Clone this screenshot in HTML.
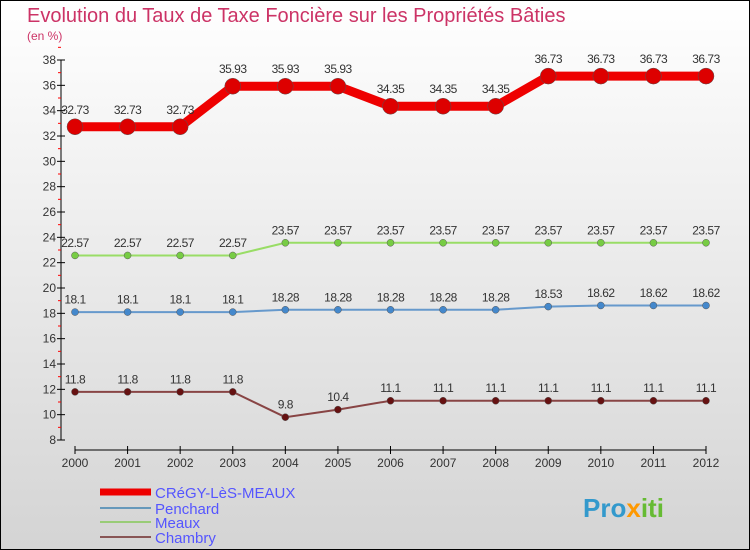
<!DOCTYPE html>
<html><head><meta charset="utf-8"><style>
html,body{margin:0;padding:0}
body{width:750px;height:550px;overflow:hidden;font-family:"Liberation Sans",sans-serif}
svg{display:block}
</style></head><body>
<svg width="750" height="550" xmlns="http://www.w3.org/2000/svg">
<defs><linearGradient id="bg" x1="0" y1="0" x2="0" y2="1"><stop offset="0" stop-color="#ffffff"/><stop offset="1" stop-color="#d4d4d4"/></linearGradient></defs>
<rect x="0.5" y="0.5" width="749" height="549" fill="url(#bg)" stroke="#000"/>
<text x="27" y="22" font-size="20" fill="#cc3366">Evolution du Taux de Taxe Foncière sur les Propriétés Bâties</text>
<text x="27" y="40" font-size="12" fill="#cc3366">(en %)</text>
<g id="axes"></g>
<g id="series"></g>
<g id="legend"></g>
<g font-size="26" font-weight="bold">
<text x="583" y="517" fill="#3399cc">Pro<tspan fill="#ff9900">x</tspan><tspan fill="#66bb33">iti</tspan></text>
</g>
</svg>
<script>
const years=[2000,2001,2002,2003,2004,2005,2006,2007,2008,2009,2010,2011,2012];
const yTicks=[8,10,12,14,16,18,20,22,24,26,28,30,32,34,36,38];
const cregy=[32.73,32.73,32.73,35.93,35.93,35.93,34.35,34.35,34.35,36.73,36.73,36.73,36.73];
const penchard=[18.1,18.1,18.1,18.1,18.28,18.28,18.28,18.28,18.28,18.53,18.62,18.62,18.62];
const meaux=[22.57,22.57,22.57,22.57,23.57,23.57,23.57,23.57,23.57,23.57,23.57,23.57,23.57];
const chambry=[11.8,11.8,11.8,11.8,9.8,10.4,11.1,11.1,11.1,11.1,11.1,11.1,11.1];
const names=["CRéGY-LèS-MEAUX","Penchard","Meaux","Chambry"];
const NS="http://www.w3.org/2000/svg";
function X(i){return 75+i*(706-75)/(years.length-1);}
function Y(v){return 440-(v-8)*(380/30);}
function mk(t,a,p){const e=document.createElementNS(NS,t);for(const k in a)e.setAttribute(k,a[k]);p.appendChild(e);return e;}
const ax=document.getElementById('axes');
const yl=mk('line',{x1:61,y1:60,x2:61,y2:440,stroke:'#000'},ax);


yTicks.forEach(v=>{
 mk('line',{x1:57,y1:Y(v),x2:65,y2:Y(v),stroke:'#000'},ax);
 mk('line',{x1:58,y1:Y(v+1),x2:61,y2:Y(v+1),stroke:'#f00'},ax);
 const t=mk('text',{x:56,y:Y(v)+4,'text-anchor':'end','font-size':12,fill:'#333'},ax);t.textContent=v;
 
 
});
const xl=mk('line',{x1:75,y1:450,x2:706,y2:450,stroke:'#000'},ax);


years.forEach((y,i)=>{
 mk('line',{x1:X(i),y1:446,x2:X(i),y2:454,stroke:'#000'},ax);
 const t=mk('text',{x:X(i),y:467,'text-anchor':'middle','font-size':12,fill:'#333'},ax);t.textContent=y;
 
 
});
const sg=document.getElementById('series');
const defs=[[cregy,'#ee0000','#dd0000',9,8,'cregy'],[meaux,'#99dd66','#77cc44',2,3.5,'meaux'],[penchard,'#6699cc','#4488cc',2,3.5,'penchard'],[chambry,'#884444','#661111',2,3.5,'chambry']];
defs.forEach(([d,lc,pc,w,r,n])=>{
 const pl=mk('polyline',{points:d.map((v,i)=>X(i)+','+Y(v)).join(' '),fill:'none',stroke:lc,'stroke-width':w},sg);
 
 
 d.forEach((v,i)=>{
  const c=mk('circle',{cx:X(i),cy:Y(v),r:r,fill:pc,stroke:'#555','stroke-width':0.5},sg);
  
  
  const t=mk('text',{x:X(i),y:Y(v)-(r+5),'text-anchor':'middle','font-size':12,fill:'#333','letter-spacing':'-0.5'},sg);
  t.textContent=String(v);
  
  
 });
});
const lg=document.getElementById('legend');
const lc=[['#ee0000',7],['#6699bb',2],['#99cc77',2],['#885555',2]];
const ly=[492,508,522,537];
names.forEach((nm,i)=>{
 const l=mk('line',{x1:100,y1:ly[i],x2:151,y2:ly[i],stroke:lc[i][0],'stroke-width':lc[i][1]},lg);
 
 
 const t=mk('text',{x:155,y:ly[i]+6,'font-size':15,fill:'#5555ff'},lg);t.textContent=nm;
 
 
});
</script>
</body></html>
